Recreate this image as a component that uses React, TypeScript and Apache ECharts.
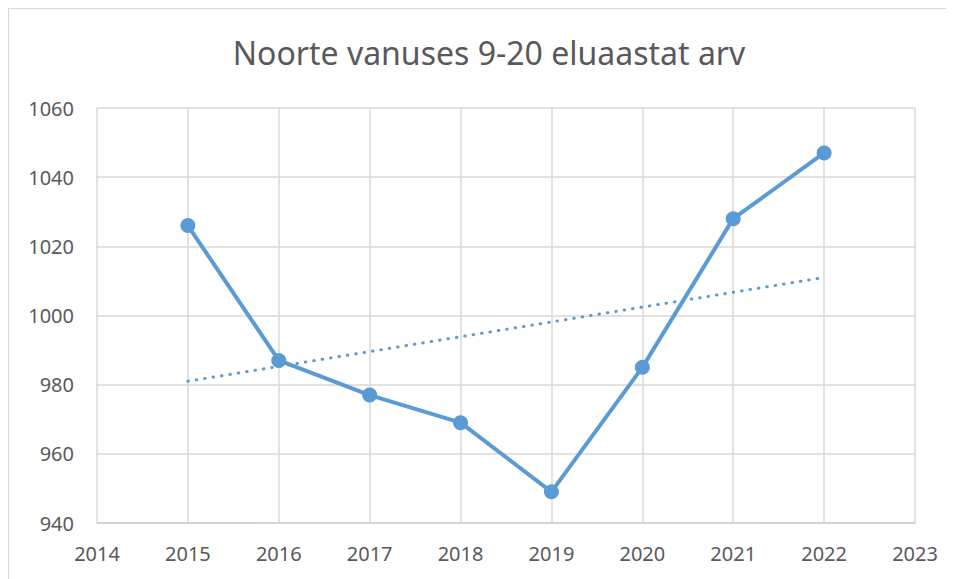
import React, { useEffect, useRef } from "react";
import * as echarts from "echarts";

const titleText = "Noorte vanuses 9-20 eluaastat arv";
const years = [2015, 2016, 2017, 2018, 2019, 2020, 2021, 2022];
const values = [1026, 987, 977, 969, 949, 985, 1028, 1047];
const trendYears = [2015, 2022];
const trendValues = [981, 1011];
const xRange = [2014, 2023];
const yRange = [940, 1060];

const FONT = "'Noto Sans', 'Open Sans', sans-serif";
const TXT = "#595959";
const BLUE = "#5B9BD5";

export default function App() {
  const ref = useRef<HTMLDivElement>(null);
  useEffect(() => {
    document.body.style.overflow = "hidden";
    document.documentElement.style.overflow = "hidden";
    const chart = echarts.init(ref.current!, null, { renderer: "svg" });
    chart.setOption({
      animation: false,
      backgroundColor: "#ffffff",
      textStyle: { fontFamily: FONT },
      graphic: [
        {
          type: "text",
          x: 480,
          y: 43,
          style: {
            text: titleText,
            fill: TXT,
            fontSize: 32,
            fontFamily: FONT,
            textAlign: "center",
            textVerticalAlign: "middle",
          },
        },
      ],
      grid: { left: 88, right: 54, top: 99, bottom: 76, containLabel: false },
      xAxis: {
        type: "value",
        min: xRange[0],
        max: xRange[1],
        interval: 1,
        axisLine: { show: true, lineStyle: { color: "#d0d0d0", width: 1.5 } },
        axisTick: { show: false },
        axisLabel: {
          color: TXT,
          fontSize: 20,
          fontFamily: FONT,
          margin: 20,
          formatter: (v: number) => String(v),
        },
        splitLine: { show: true, lineStyle: { color: "#d9d9d9", width: 1.5 } },
      },
      yAxis: {
        type: "value",
        min: yRange[0],
        max: yRange[1],
        interval: 20,
        axisLine: { show: false },
        axisTick: { show: false },
        axisLabel: {
          color: TXT,
          fontSize: 20,
          fontFamily: FONT,
          margin: 23,
          formatter: (v: number) => String(v),
        },
        splitLine: { show: true, lineStyle: { color: "#d9d9d9", width: 1.5 } },
      },
      series: [
        {
          type: "line",
          name: "trend",
          data: trendYears.map((y, i) => [y, trendValues[i]]),
          symbol: "none",
          z: 1,
          lineStyle: { color: BLUE, width: 3, type: [0.5, 8], cap: "round" },
        },
        {
          type: "line",
          name: "arv",
          data: years.map((y, i) => [y, values[i]]),
          symbol: "circle",
          symbolSize: 15,
          z: 2,
          itemStyle: { color: BLUE },
          lineStyle: { color: BLUE, width: 4 },
        },
      ],
    });
    return () => chart.dispose();
  }, []);
  return (
    <div
      style={{
        width: 960,
        height: 590,
        borderTop: "1px solid #d9d9d9",
        borderLeft: "1px solid #d9d9d9",
      }}
    >
      <div ref={ref} style={{ width: 960, height: 590 }} />
    </div>
  );
}
